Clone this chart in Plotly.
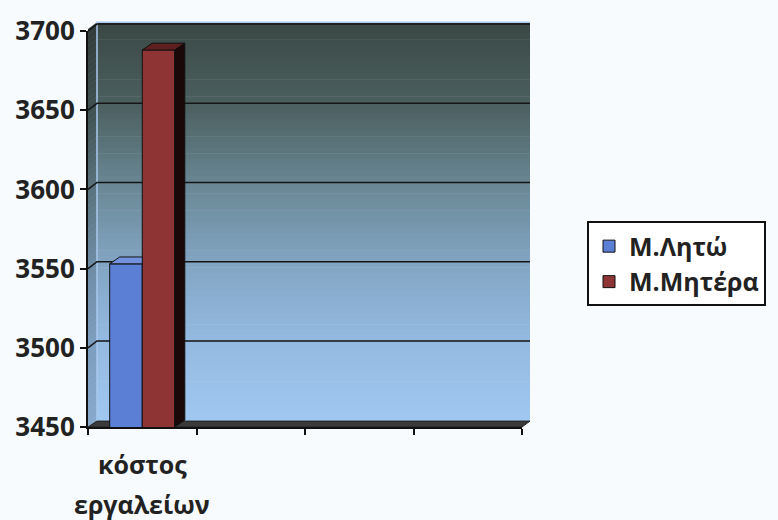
import plotly.graph_objects as go

# --- data ---
category_label = "κόστος εργαλείων"
n_slots = 4
series_names = ["Μ.Λητώ", "Μ.Μητέρα"]
leto_values = [3553]
mitera_values = [3688]
y_ticks = [3450, 3500, 3550, 3600, 3650, 3700]

# --- styling ---
FONT = "Open Sans"
TXT = "#222222"
front_cols = ["#5b7fd4", "#8e3434"]
top_cols = ["#7391dc", "#5e1f1f"]
side_cols = ["#2b3f7a", "#1a0808"]

W_FIG, H_FIG = 778, 520
L, R, T, B = 88, 522, 24, 427          # plot area in pixels
PW, PH = R - L, B - T
ymin, ymax = y_ticks[0], y_ticks[-1]

def px(x):
    return (x - L) / PW

def py(y):
    return (B - y) / PH

# depth of the pseudo-3D effect
DEPTH_X_PX, DEPTH_Y_PX = 10, 7
slot_px = PW / n_slots
dx = DEPTH_X_PX / slot_px
dy = DEPTH_Y_PX * (ymax - ymin) / PH
bar_w = 0.3

fig = go.Figure()

# front faces
for k, (name, vals) in enumerate(zip(series_names, [leto_values, mitera_values])):
    fig.add_trace(go.Bar(
        x=list(range(len(vals))), y=vals, name=name,
        width=bar_w, offset=-bar_w + k * bar_w,
        marker=dict(color=front_cols[k], line=dict(color="#111111", width=1)),
        legendgroup=name,
    ))

# top and side faces
for k, vals in enumerate([leto_values, mitera_values]):
    for i, v in enumerate(vals):
        x0 = i - bar_w + k * bar_w
        x1 = x0 + bar_w
        last = (k == 1)
        # top face (the left series' top is hidden to the right by its neighbour)
        xr = x1 + dx if last else x1
        fig.add_trace(go.Scatter(
            x=[x0, x0 + dx, xr, x1, x0], y=[v, v + dy, v + dy, v, v],
            mode="lines", fill="toself", fillcolor=top_cols[k],
            line=dict(color="#111111", width=1), showlegend=False, hoverinfo="skip"))
        if last:
            fig.add_trace(go.Scatter(
                x=[x1, x1 + dx, x1 + dx, x1, x1], y=[ymin, ymin + dy, v + dy, v, ymin],
                mode="lines", fill="toself", fillcolor=side_cols[k],
                line=dict(color="#111111", width=1), showlegend=False, hoverinfo="skip"))

# --- back wall gradient ---
stops = [(15, (58, 72, 68)), (100, (76, 96, 96)), (180, (105, 135, 148)),
         (260, (130, 165, 195)), (340, (148, 186, 225)), (421, (160, 200, 240))]

def grad(y):
    for (y0, c0), (y1, c1) in zip(stops, stops[1:]):
        if y0 <= y <= y1:
            t = (y - y0) / (y1 - y0)
            return tuple(int(round(a + (b - a) * t)) for a, b in zip(c0, c1))
    return stops[-1][1] if y > stops[-1][0] else stops[0][1]

shapes = []
wall_l, wall_r, wall_t, wall_b = L + 9, R + 8, T - 9, B - 6
n_strips = 70
h = (wall_b - wall_t) / n_strips
for s in range(n_strips):
    y0 = wall_t + s * h
    y1 = y0 + h + 0.6
    c = grad(y0 + h / 2)
    shapes.append(dict(type="rect", xref="paper", yref="paper", layer="below",
                       x0=px(wall_l), x1=px(wall_r), y0=py(y1), y1=py(y0),
                       fillcolor="rgb(%d,%d,%d)" % c, line=dict(width=0)))
    cs = tuple(int(v * 0.85) for v in c)
    # left side wall strip
    shapes.append(dict(type="path", xref="paper", yref="paper", layer="below",
                       path="M %f %f L %f %f L %f %f L %f %f Z" % (
                           px(L), py(y0 + 7), px(wall_l), py(y0),
                           px(wall_l), py(y1), px(L), py(y1 + 7)),
                       fillcolor="rgb(%d,%d,%d)" % cs, line=dict(width=0)))

# light wall border
shapes.append(dict(type="path", xref="paper", yref="paper", layer="below",
                   path="M %f %f L %f %f L %f %f" % (px(wall_l), py(wall_b), px(wall_l), py(wall_t),
                                                     px(wall_r), py(wall_t)),
                   line=dict(color="#a9c9ee", width=1.5)))

# gridlines on the wall with a short diagonal on the side wall
for v in y_ticks[1:]:
    yv = B - (v - ymin) / (ymax - ymin) * PH
    shapes.append(dict(type="path", xref="paper", yref="paper", layer="below",
                       path="M %f %f L %f %f L %f %f" % (px(L), py(yv), px(wall_l), py(yv - 7),
                                                         px(wall_r), py(yv - 7)),
                       line=dict(color="#151515", width=1.5)))

# floor
shapes.append(dict(type="path", xref="paper", yref="paper", layer="below",
                   path="M %f %f L %f %f L %f %f L %f %f Z" % (
                       px(L), py(B), px(R), py(B), px(wall_r), py(wall_b), px(wall_l), py(wall_b)),
                   fillcolor="#3a3a3a", line=dict(color="#222222", width=1)))

# category label, one word per line
words = category_label.split(" ")
annotations = []
for j, wtxt in enumerate(words):
    annotations.append(dict(x=0, xref="x", y=py(465 + 40 * j), yref="paper",
                            text=wtxt, showarrow=False, xanchor="center", yanchor="middle",
                            font=dict(family=FONT, size=25, color=TXT, weight="bold")))

fig.update_layout(
    width=W_FIG, height=H_FIG, autosize=False,
    margin=dict(l=L, r=W_FIG - R, t=T, b=H_FIG - B, pad=0),
    paper_bgcolor="#f7fbfd", plot_bgcolor="rgba(0,0,0,0)",
    barmode="overlay", shapes=shapes, annotations=annotations,
    xaxis=dict(range=[-0.5, n_slots - 0.5], tickvals=[0], ticktext=[""], ticks="",
               showgrid=False, zeroline=False, showline=True, linecolor="#111111", linewidth=2,
               minor=dict(tickvals=[i - 0.5 for i in range(n_slots + 1)], ticks="outside",
                          ticklen=6, tickwidth=2, tickcolor="#111111", showgrid=False),
               fixedrange=True),
    yaxis=dict(range=[ymin, ymax], tickvals=y_ticks, ticks="outside", ticklen=6, tickwidth=2,
               tickcolor="#111111", showline=True, linecolor="#111111", linewidth=2,
               showgrid=False, zeroline=False,
               tickfont=dict(family=FONT, size=26, color=TXT, weight="bold"), fixedrange=True),
    legend=dict(x=px(587), xanchor="left", y=py(261), yanchor="middle",
                bgcolor="#ffffff", bordercolor="#111111", borderwidth=2,
                font=dict(family=FONT, size=25, color=TXT, weight="bold"),
                tracegroupgap=4, traceorder="normal", itemwidth=30),
    showlegend=True,
)

fig.write_html("out.html")
